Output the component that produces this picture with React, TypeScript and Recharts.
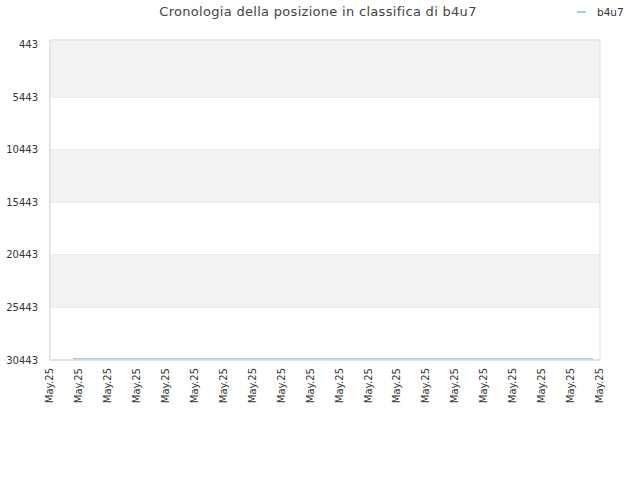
import React from "react";
import { LineChart, Line, XAxis, YAxis, CartesianGrid, ReferenceArea } from "recharts";

const tickPositions = [0, 1, 2, 3, 4, 5, 6, 7, 8, 9, 10, 11, 12, 13, 14, 15, 16, 17, 18, 19];
const tickLabels = ["May.25", "May.25", "May.25", "May.25", "May.25", "May.25", "May.25", "May.25", "May.25", "May.25", "May.25", "May.25", "May.25", "May.25", "May.25", "May.25", "May.25", "May.25", "May.25", "May.25"];
const pointX = [0.79, 18.76];
const rankValues = [30320, 30320];
const yTicks = [443, 5443, 10443, 15443, 20443, 25443, 30443];
const bands = [[0, 5443], [10443, 15443], [20443, 25443]];

const data = pointX.map((x, i) => ({ x, rank: rankValues[i] }));
const font = "DejaVu Sans";

export default function App() {
  return (
    <div style={{ position: "absolute", left: 0, top: 0, width: 640, height: 480, fontFamily: font }}>
      <div style={{ position: "absolute", top: 4, left: 0, width: 636, textAlign: "center", fontSize: 13, color: "#444", letterSpacing: 0.3 }}>
        Cronologia della posizione in classifica di b4u7
      </div>
      <div style={{ position: "absolute", top: 6, left: 577, fontSize: 10.5, color: "#333", display: "flex", alignItems: "center" }}>
        <span style={{ display: "inline-block", width: 9, height: 2, background: "#a6c8ec", marginRight: 11 }} />
        <span>b4u7</span>
      </div>
      <LineChart width={640} height={480} data={data} margin={{ top: 40, right: 40, bottom: 0, left: 0 }}>
        {bands.map((b, i) => (
          <ReferenceArea key={i} y1={b[0]} y2={b[1]} fill="#f2f2f2" fillOpacity={1} stroke="none" ifOverflow="visible" />
        ))}
        <CartesianGrid vertical={false} stroke="#e3e3e3" />
        <ReferenceArea y1={0} y2={30443} x1={0} x2={19} fill="none" stroke="#dddddd" ifOverflow="visible" />
        <XAxis
          type="number"
          dataKey="x"
          domain={[0, 19]}
          ticks={tickPositions}
          tickFormatter={(v: number) => tickLabels[v]}
          interval={0}
          height={120}
          angle={-90}
          textAnchor="end"
          dx={-4}
          dy={0}
          tickLine={false}
          axisLine={{ stroke: "#dddddd" }}
          tick={{ fontSize: 10, fill: "#333", fontFamily: font }}
        />
        <YAxis
          reversed
          domain={[0, 30443]}
          ticks={yTicks}
          interval={0}
          width={50}
          tickLine={false}
          axisLine={{ stroke: "#dddddd" }}
          tick={{ fontSize: 10, fill: "#333", fontFamily: font }}
          tickMargin={6}
        />
        <Line type="linear" dataKey="rank" stroke="#a6c8ec" strokeWidth={1.5} dot={false} isAnimationActive={false} />
      </LineChart>
    </div>
  );
}
